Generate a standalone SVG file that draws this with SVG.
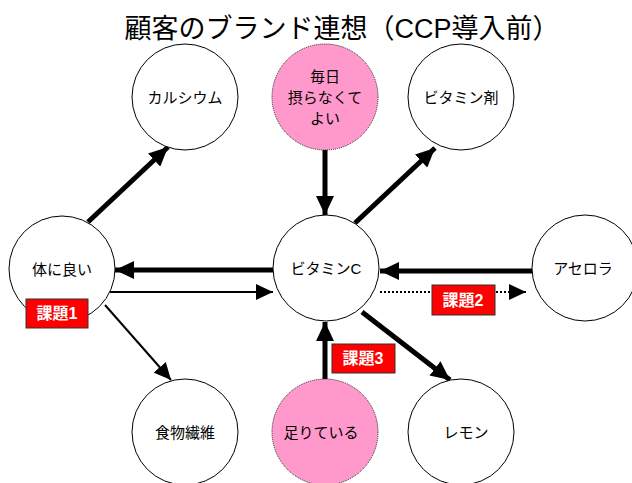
<svg xmlns="http://www.w3.org/2000/svg" width="632" height="483" viewBox="0 0 632 483">
<style>
.n{fill:#fff;stroke:#000;stroke-width:1}
.p{fill:#FF99CC;stroke:#222;stroke-width:1;stroke-dasharray:1,1}
.t{font-family:"Liberation Sans","Noto Sans CJK JP",sans-serif;font-size:15px;fill:#000;text-anchor:middle}
.thick{stroke:#000;stroke-width:5;fill:none;marker-end:url(#ah)}
.thin{stroke:#000;stroke-width:2;fill:none;marker-end:url(#ah2)}
.dot{stroke:#000;stroke-width:2;fill:none;stroke-dasharray:2,2;marker-end:url(#ah2)}
.lb{fill:#FF0000;stroke:#333;stroke-width:1}
.lt{font-family:"Liberation Sans","Noto Sans CJK JP",sans-serif;font-size:16px;font-weight:bold;fill:#fff;text-anchor:middle}
</style>
<defs>
<marker id="ah" markerUnits="userSpaceOnUse" markerWidth="20" markerHeight="18" refX="19" refY="9" orient="auto">
<path d="M0,0 L19,9 L0,18 z" fill="#000"/>
</marker>
<marker id="ah2" markerUnits="userSpaceOnUse" markerWidth="18" markerHeight="16" refX="17" refY="8" orient="auto">
<path d="M0,0 L17,8 L0,16 z" fill="#000"/>
</marker>
</defs>
<text x="342" y="38" font-family="Liberation Sans,Noto Sans CJK JP,sans-serif" font-size="27" text-anchor="middle" fill="#000">顧客のブランド連想（CCP導入前）</text>
<g id="connectors">
<line class="thick" x1="88" y1="222" x2="168" y2="147"/>
<line class="thick" x1="325" y1="150" x2="325" y2="215"/>
<line class="thick" x1="355" y1="223" x2="435" y2="148"/>
<line class="thick" x1="273" y1="270" x2="115" y2="270"/>
<line class="thin" x1="110" y1="292" x2="273" y2="292"/>
<line class="thick" x1="532" y1="271" x2="380" y2="271"/>
<line class="dot" x1="380" y1="292" x2="526" y2="292"/>
<line class="thick" x1="325" y1="379" x2="325" y2="322"/>
<line class="thick" x1="362" y1="312" x2="450" y2="380"/>
<line class="thin" x1="105" y1="305" x2="171" y2="380"/>
</g>
<g id="calcium"><circle class="n" cx="185" cy="97" r="53"/><text class="t" x="185" y="103">カルシウム</text></g>
<g id="mainichi"><circle class="p" cx="325" cy="97" r="53"/><text class="t" x="325" y="82">毎日</text><text class="t" x="325" y="103">摂らなくて</text><text class="t" x="325" y="124">よい</text></g>
<g id="vitaminzai"><circle class="n" cx="461" cy="97" r="53"/><text class="t" x="461" y="103">ビタミン剤</text></g>
<g id="karadaniyoi"><circle class="n" cx="62" cy="269" r="53"/><text class="t" x="62" y="275">体に良い</text></g>
<g id="vitaminc"><circle class="n" cx="326" cy="268" r="53"/><text class="t" x="326" y="274">ビタミンC</text></g>
<g id="acerola"><circle class="n" cx="585" cy="268" r="53"/><text class="t" x="583" y="274">アセロラ</text></g>
<g id="shokumotsu"><circle class="n" cx="185" cy="432" r="53"/><text class="t" x="185" y="438">食物繊維</text></g>
<g id="tariteiru"><circle class="p" cx="325" cy="432" r="53"/><text class="t" x="321" y="438">足りている</text></g>
<g id="lemon"><circle class="n" cx="461" cy="432" r="53"/><text class="t" x="466" y="438">レモン</text></g>
<g id="kadai1"><rect class="lb" x="26" y="299" width="62" height="29"/><text class="lt" x="57" y="319">課題1</text></g>
<g id="kadai2"><rect class="lb" x="432" y="285" width="63" height="30"/><text class="lt" x="463" y="306">課題2</text></g>
<g id="kadai3"><rect class="lb" x="332" y="344" width="63" height="29"/><text class="lt" x="363" y="364">課題3</text></g>
</svg>
